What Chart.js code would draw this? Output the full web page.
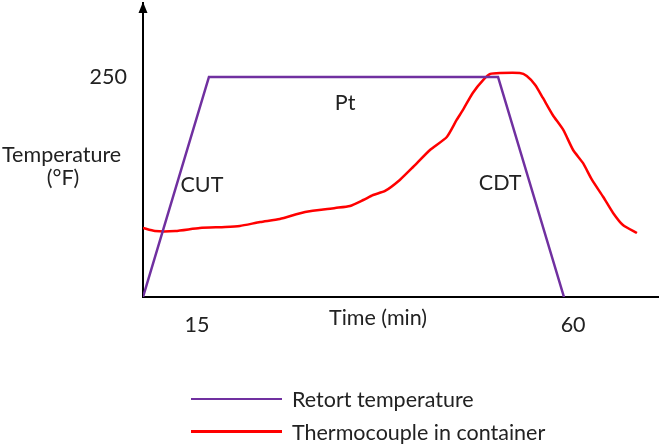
<!DOCTYPE html>
<html>
<head>
<meta charset="utf-8">
<script src="https://cdn.jsdelivr.net/npm/chart.js@4/dist/chart.umd.min.js"></script>
<style>
    body {margin: 0; background: #fff;}
    #wrap {position: relative; width: 661px; height: 447px;}
    #chart-labels {position: absolute; left: 191px; top: 382px; font-family: Lato, sans-serif; font-size: 21.5px; color: #222;}
    .chart-label-container {display: flex; align-items: center; height: 33px;}
    .chart-label-color {width: 91px; margin-right: 10px;}
</style>
</head>
<body>
<div id="wrap">
    <canvas id="chart" width="661" height="447"></canvas>
    <div id="chart-labels"></div>
</div>
<script>
// schematic time axis (min) and temperature (F)
const retortTime = [0, 9.4, 50.6, 60]
const retortTemp = [0, 250, 250, 0]
const probeTime = [0, 1.7, 4.6, 8.1, 11.7, 13.8, 16.7, 19.5, 23.1, 27.4, 29.5, 31.4, 32.8, 34.5, 36.6, 38.5,
    40.9, 43.3, 44.7, 45.6, 47.0, 48.5, 49.5, 50.9, 53.7, 54.7, 55.9, 57.0, 58.4, 59.9, 61.3, 62.7, 64.0,
    65.6, 67.0, 68.4, 70.4]
const probeTemp = [78.4, 75, 75, 78.4, 79.5, 80.7, 85.2, 88.6, 96.6, 101.1, 103.4, 110.2, 115.9, 120.5, 133, 147.7,
    167, 181.8, 201.1, 212.5, 231.8, 246.6, 253.4, 254.5, 254.5, 251.1, 240.9, 226.1, 206.8, 189.8, 167, 152.3, 133,
    113.6, 95.5, 81.8, 72.7]
const xTickValues = [7.7, 61.3]
const xTickLabels = ["15", "60"]
const yTickValues = [250]
const yTickLabels = ["250"]
const seriesNames = ["Retort temperature", "Thermocouple in container"]
const seriesColors = ["#7030a0", "#ff0000"]

// free text placed in data units
const notes = [
    {text: "Pt", x: 28.8, y: 220.5},
    {text: "CUT", x: 8.4, y: 127.3},
    {text: "CDT", x: 50.9, y: 129.5},
    {text: "Time (min)", x: 33.5, y: -23.9},
    {text: "Temperature", x: -11.6, y: 161.4},
    {text: "(\u00b0F)", x: -11.4, y: 135.2},
]

const textColor = "#222"
const fontFamily = "Lato, sans-serif"
const fontSize = 21.5

const extras = {
    id: "extras",
    afterDraw(chart) {
        let ctx = chart.ctx
        let xs = chart.scales.x
        let ys = chart.scales.y
        ctx.save()
        ctx.fillStyle = textColor
        ctx.font = `${fontSize}px ${fontFamily}`
        ctx.textAlign = "center"
        ctx.textBaseline = "middle"
        for (let n of notes) {
            ctx.fillText(n.text, xs.getPixelForValue(n.x), ys.getPixelForValue(n.y))
        }
        // arrow head on the y axis
        let ax = chart.chartArea.left
        let top = chart.chartArea.top
        ctx.fillStyle = "#000"
        ctx.beginPath()
        ctx.moveTo(ax, top - 1)
        ctx.lineTo(ax - 4.5, top + 10)
        ctx.lineTo(ax + 4.5, top + 10)
        ctx.closePath()
        ctx.fill()
        ctx.restore()
    }
}

let chart = new Chart("chart", {
    type: "line",
    data: {
        datasets: [
            {label: seriesNames[0], data: retortTime.map((t, i) => ({x: t, y: retortTemp[i]})),
                borderColor: seriesColors[0], borderWidth: 2.5, pointRadius: 0, tension: 0},
            {label: seriesNames[1], data: probeTime.map((t, i) => ({x: t, y: probeTemp[i]})),
                borderColor: seriesColors[1], borderWidth: 2.5, pointRadius: 0, tension: 0.2},
        ]
    },
    options: {
        responsive: false,
        animation: false,
        layout: {padding: {top: 3, right: 3, left: 0, bottom: 0}},
        plugins: {legend: {display: false}, tooltip: {enabled: false}},
        scales: {
            x: {
                type: "linear", min: 0, max: 73.4,
                grid: {display: false, drawTicks: false},
                border: {display: true, color: "#000", width: 2},
                afterBuildTicks: (s) => { s.ticks = xTickValues.map(v => ({value: v})) },
                afterFit: (s) => { s.height = 150; s.paddingLeft = 0; s.paddingRight = 0 },
                ticks: {
                    padding: 15, autoSkip: false, maxRotation: 0, color: textColor,
                    font: {family: fontFamily, size: fontSize},
                    callback: (v, i) => xTickLabels[i]
                }
            },
            y: {
                min: 0, max: 334,
                grid: {display: false, drawTicks: false},
                border: {display: true, color: "#000", width: 2},
                afterBuildTicks: (s) => { s.ticks = yTickValues.map(v => ({value: v})) },
                afterFit: (s) => { s.width = 143; s.paddingTop = 0; s.paddingBottom = 0 },
                ticks: {
                    padding: 16, color: textColor,
                    font: {family: fontFamily, size: fontSize},
                    callback: (v, i) => yTickLabels[i]
                }
            }
        }
    },
    plugins: [extras]
})

// legend as html, one row per series
let labels_container = document.querySelector("#chart-labels")
chart.data.datasets.forEach((ds, i) => {
    let element = document.createElement("div")
    element.classList.add("chart-label-container")
    let color_element = document.createElement("div")
    color_element.classList.add("chart-label-color")
    color_element.style.borderTop = `${i == 0 ? 2 : 3.5}px solid ${ds.borderColor}`
    element.appendChild(color_element)
    let label_value = document.createElement("div")
    label_value.textContent = ds.label
    element.appendChild(label_value)
    labels_container.append(element)
})
</script>
</body>
</html>
